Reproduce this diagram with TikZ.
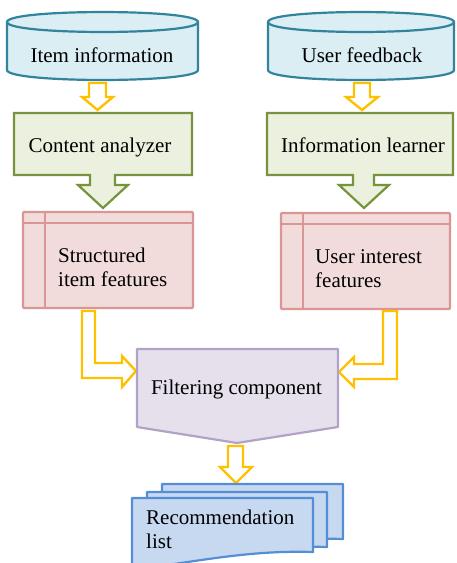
\documentclass[tikz,border=0pt]{standalone}
\usepackage{fontspec}
\setmainfont{Liberation Serif}
\definecolor{cylfill}{HTML}{DAEEF3}
\definecolor{cyldraw}{HTML}{31849B}
\definecolor{grnfill}{HTML}{EBF1DE}
\definecolor{grndraw}{HTML}{77933C}
\definecolor{pnkfill}{HTML}{F2DCDB}
\definecolor{pnkdraw}{HTML}{D99694}
\definecolor{purfill}{HTML}{E5E0EC}
\definecolor{purdraw}{HTML}{B3A2C7}
\definecolor{docfill}{HTML}{C6D9F1}
\definecolor{docdraw}{HTML}{558ED5}
\definecolor{arrowyel}{HTML}{FFC000}
\tikzset{
  cylshape/.style={draw=cyldraw,fill=cylfill,line width=2.2pt,line join=round},
  grnshape/.style={draw=grndraw,fill=grnfill,line width=2.2pt,line join=miter},
  pnkshape/.style={draw=pnkdraw,fill=pnkfill,line width=2.2pt,rounded corners=1pt},
  pnkline/.style={draw=pnkdraw,line width=2.2pt},
  purshape/.style={draw=purdraw,fill=purfill,line width=2.2pt,line join=round},
  docshape/.style={draw=docdraw,fill=docfill,line width=2.2pt,line join=round},
  yelarrow/.style={draw=arrowyel,fill=white,line width=2.4pt,line join=miter},
  lbl/.style={inner sep=0pt,font=\fontsize{21}{24}\selectfont},
}
\begin{document}
\begin{tikzpicture}[x=1pt,y=-1pt]
\useasboundingbox (0,0) rectangle (456,563);
\clip (0,0) rectangle (456,563);
% cylinders
\path[cylshape] (7,22) -- (7,70) .. controls (7,83.3) and (198,83.3) .. (198,70) -- (198,22) .. controls (198,8.7) and (7,8.7) .. (7,22) -- cycle;
\draw[cylshape,fill=none] (7,22) .. controls (7,35.3) and (198,35.3) .. (198,22);
\path[cylshape] (268,22) -- (268,70) .. controls (268,83.3) and (454,83.3) .. (454,70) -- (454,22) .. controls (454,8.7) and (268,8.7) .. (268,22) -- cycle;
\draw[cylshape,fill=none] (268,22) .. controls (268,35.3) and (454,35.3) .. (454,22);
\node[lbl,anchor=base] (iteminfo) at (102,62) {Item information};
\node[lbl,anchor=base] (userfb) at (362,62) {User feedback};
% small yellow arrows
\path[yelarrow] (89,83) -- (106,83) -- (106,97) -- (113,97) -- (97.5,110) -- (82,97) -- (89,97) -- cycle;
\path[yelarrow] (354,83) -- (370,83) -- (370,97) -- (378,97) -- (362,110) -- (346,97) -- (354,97) -- cycle;
% green boxes with arrow
\path[grnshape] (14,113) -- (192,113) -- (192,175) -- (115,175) -- (115,185) -- (128,185) -- (103,208) -- (78,185) -- (90,185) -- (90,175) -- (14,175) -- cycle;
\path[grnshape] (267,113) -- (453,113) -- (453,175) -- (374,175) -- (374,185) -- (389,185) -- (364,208) -- (339,185) -- (353,185) -- (353,175) -- (267,175) -- cycle;
\node[lbl,anchor=base] (content) at (100,152) {Content analyzer};
\node[lbl,anchor=base] (infolearn) at (363,152) {Information learner};
% pink boxes
\path[pnkshape] (23,212) rectangle (193,308);
\draw[pnkline] (23,223) -- (193,223);
\draw[pnkline] (45,212) -- (45,308);
\path[pnkshape] (281,213) rectangle (450,309);
\draw[pnkline] (281,224) -- (450,224);
\draw[pnkline] (303,213) -- (303,309);
\node[lbl,anchor=base west,align=left] (itemfeat) at (58,286) {Structured\\item features};
\node[lbl,anchor=base west,align=left] (userfeat) at (315,287) {User interest\\features};
% bent arrows
\path[yelarrow] (82,311) -- (95,311) -- (95,363) -- (122,363) -- (122,356) -- (136,371) -- (122,387) -- (122,378) -- (82,378) -- cycle;
\path[yelarrow] (397,311) -- (383,311) -- (383,364) -- (354,364) -- (354,357) -- (339,372) -- (354,387) -- (354,379) -- (397,379) -- cycle;
% filtering component
\path[purshape] (137,349) -- (338,349) -- (338,427) -- (237,443) -- (137,427) -- cycle;
\node[lbl,anchor=base] (filter) at (236.5,394) {Filtering component};
% bottom arrow
\path[yelarrow] (228,446) -- (243,446) -- (243,467) -- (252,467) -- (236,483) -- (220,467) -- (228,467) -- cycle;
% documents
\path[docshape] (162,484) -- (343,484) -- (343,539) .. controls (280,537) and (230,548) .. (162,556) -- cycle;
\path[docshape] (147,492) -- (327,492) -- (327,547) .. controls (265,545) and (215,556) .. (147,564) -- cycle;
\path[docshape] (132,498) -- (313,498) -- (313,552) .. controls (250,550) and (200,561) .. (132,570) -- cycle;
\node[lbl,anchor=base west,align=left] (reclist) at (146,548) {Recommendation\\list};
\end{tikzpicture}
\end{document}
